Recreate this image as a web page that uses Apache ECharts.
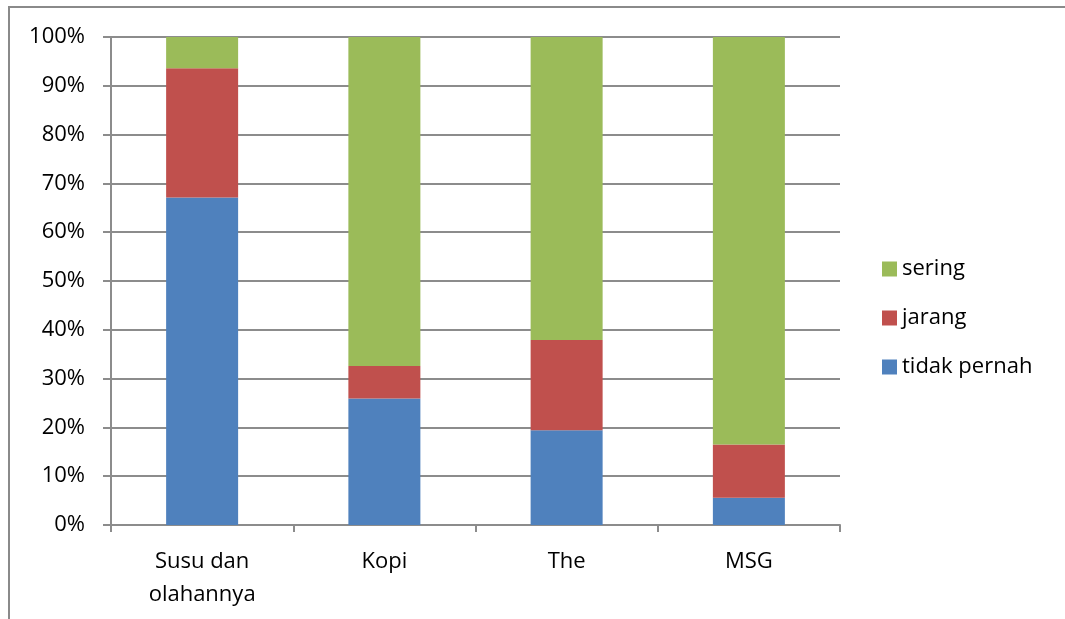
<!DOCTYPE html>
<html>
<head>
<meta charset="utf-8">
<script src="https://cdn.jsdelivr.net/npm/echarts@6/dist/echarts.min.js"></script>
<style>
  html, body { margin: 0; padding: 0; background: #ffffff; }
  #chart { width: 1065px; height: 619px; }
</style>
</head>
<body>
<div id="chart"></div>
<script>
// categories and stacked percentages
const categories = ["Susu dan\nolahannya", "Kopi", "The", "MSG"]
const tidakPernah = [67.1, 25.9, 19.4, 5.6]
const jarang = [26.5, 6.7, 18.5, 10.9]
const sering = [6.4, 67.4, 62.1, 83.5]

const font = "'Open Sans', 'Noto Sans', sans-serif"
const gridColor = "#8c8c8c"

const chart = echarts.init(document.getElementById("chart"))

const makeSeries = (name, data, color) => ({
  name,
  type: "bar",
  stack: "total",
  data,
  barWidth: 72,
  itemStyle: { color },
  emphasis: { disabled: true },
})

chart.setOption({
  animation: false,
  backgroundColor: "#ffffff",
  grid: { left: 111, top: 37, right: 225, bottom: 94 },
  legend: {
    orient: "vertical",
    left: 882,
    top: 258,
    padding: 0,
    itemWidth: 15,
    itemHeight: 15,
    itemGap: 27,
    icon: "rect",
    data: ["sering", "jarang", "tidak pernah"],
    textStyle: { fontFamily: font, fontSize: 22, color: "#000" },
  },
  xAxis: {
    type: "category",
    data: categories,
    axisLine: { lineStyle: { color: gridColor, width: 2 } },
    axisTick: { show: true, length: 7, lineStyle: { color: gridColor, width: 2 } },
    axisLabel: {
      fontFamily: font,
      fontSize: 22,
      color: "#000",
      margin: 20,
      lineHeight: 33,
    },
  },
  yAxis: {
    type: "value",
    min: 0,
    max: 100,
    interval: 10,
    axisLine: { show: true, lineStyle: { color: gridColor, width: 2 } },
    axisTick: { show: true, length: 8, lineStyle: { color: gridColor, width: 2 } },
    splitLine: { lineStyle: { color: gridColor, width: 2 } },
    axisLabel: {
      fontFamily: font,
      fontSize: 22,
      color: "#000",
      margin: 26,
      formatter: "{value}%",
    },
  },
  graphic: [
    {
      type: "polyline",
      shape: { points: [[9, 619], [9, 7], [1065, 7]] },
      style: { stroke: "#8a8a8a", lineWidth: 2, fill: null },
      silent: true,
    },
  ],
  series: [
    makeSeries("tidak pernah", tidakPernah, "#4f81bd"),
    makeSeries("jarang", jarang, "#c0504d"),
    makeSeries("sering", sering, "#9bbb59"),
  ],
})

window.addEventListener("resize", () => chart.resize())
</script>
</body>
</html>
